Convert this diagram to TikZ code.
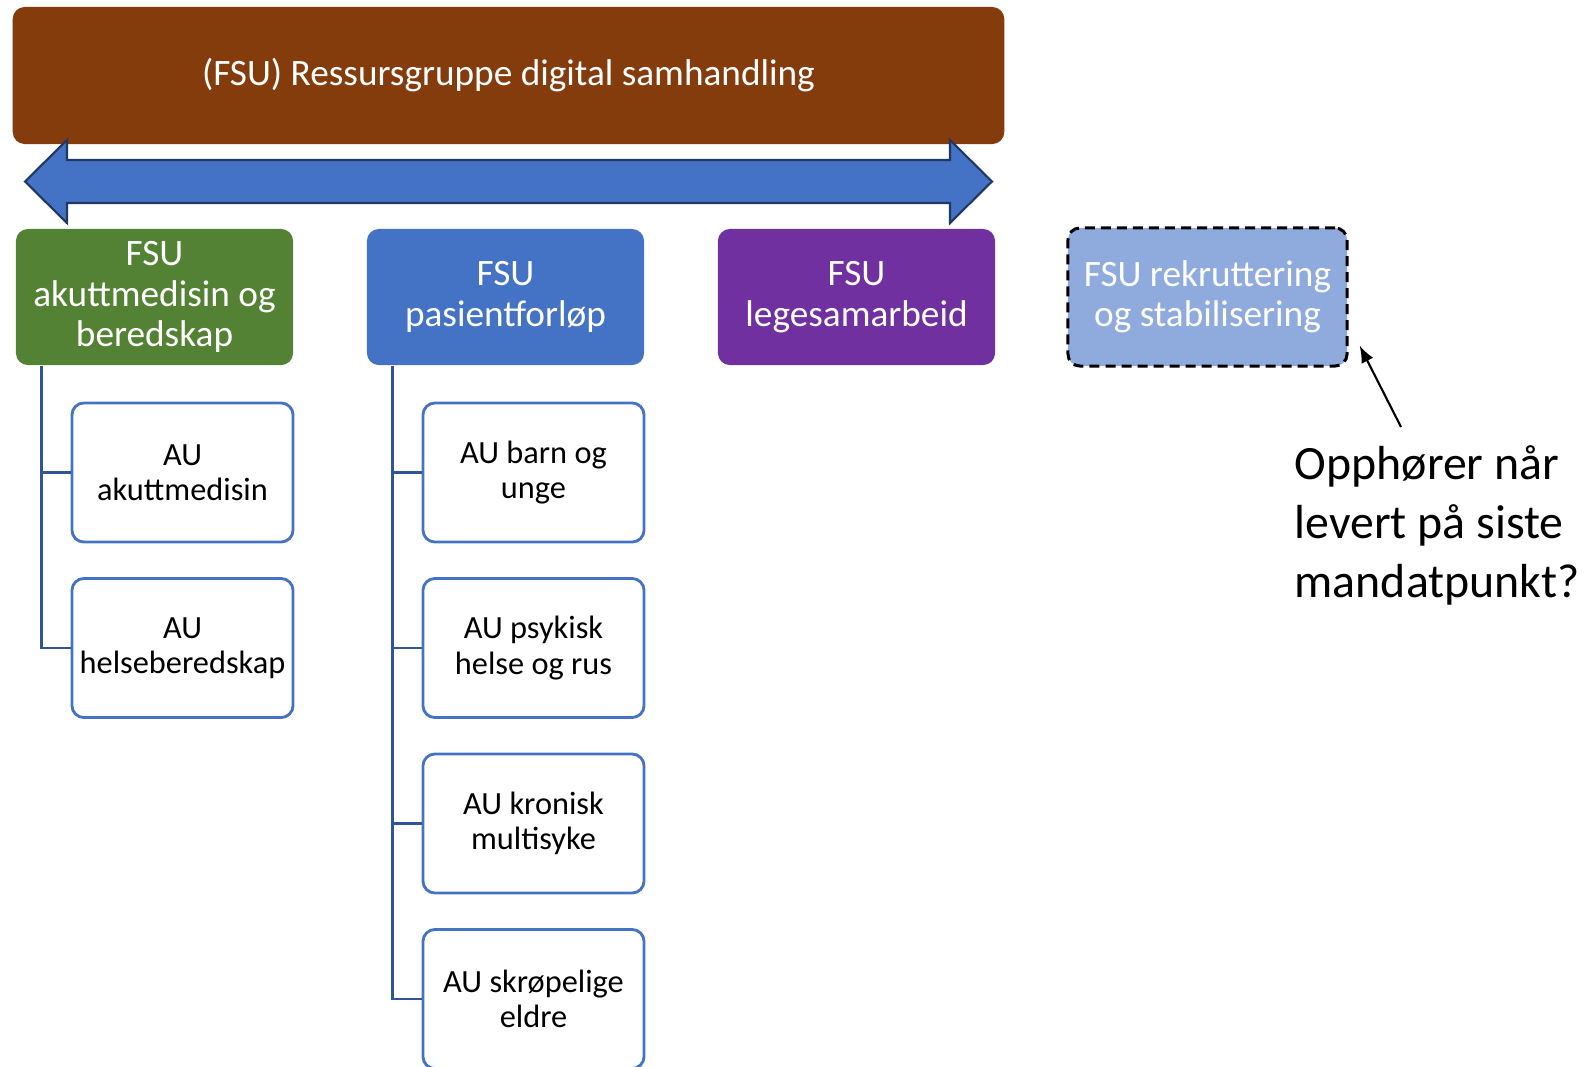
\documentclass[tikz,border=0pt]{standalone}
\usepackage{fontspec}
\setmainfont{Carlito}
\usepackage{tikz}
\usetikzlibrary{arrows.meta}
\tikzset{>={Latex[width=1.3mm,length=1.7mm]}}
\definecolor{brownfsu}{HTML}{843C0C}
\definecolor{greenfsu}{HTML}{548235}
\definecolor{bluefsu}{HTML}{4472C4}
\definecolor{purplefsu}{HTML}{7030A0}
\definecolor{lightfsu}{HTML}{8FAADC}
\definecolor{arrowline}{HTML}{1F3864}
\definecolor{linkline}{HTML}{2F5597}
\tikzset{
  fsubox/.style={rectangle, rounded corners=0.12cm, minimum width=2.77cm,
    minimum height=1.36cm, align=center, text=white, inner sep=0pt,
    font=\fontsize{10.6}{11.5}\selectfont},
  aubox/.style={rectangle, rounded corners=0.12cm, draw=bluefsu,
    line width=0.8pt, fill=white, minimum width=2.21cm, minimum height=1.39cm,
    align=center, inner sep=0pt, font=\fontsize{9.2}{10.1}\selectfont},
  link/.style={draw=linkline, line width=0.75pt},
}

\begin{document}
\begin{tikzpicture}[x=0.01cm, y=-0.01cm]
    \useasboundingbox (0,0) rectangle (1585,1066);

    \node[fsubox, fill=brownfsu, minimum width=9.91cm, minimum height=1.37cm] (ressurs) at (508.5,75.5) {(FSU) Ressursgruppe digital samhandling};

    % double arrow under the top box
    \draw[fill=bluefsu, draw=arrowline, line width=0.6pt]
      (25,181.5) -- (67,140) -- (67,160) -- (950,160) -- (950,140)
      -- (992,181.5) -- (950,223) -- (950,203) -- (67,203) -- (67,223) -- cycle;

    \node[fsubox, fill=greenfsu] (akutt) at (154.5,297) {FSU\\akuttmedisin og\\beredskap};
    \node[fsubox, fill=bluefsu] (forlop) at (505.5,297) {FSU\\pasientforløp};
    \node[fsubox, fill=purplefsu] (lege) at (856.5,297) {FSU\\legesamarbeid};
    \node[fsubox, fill=lightfsu, draw=black, line width=0.85pt, dash pattern=on 0.1cm off 0.06cm,
      minimum width=2.79cm, minimum height=1.38cm] (rekrutt) at (1207.5,297) {FSU rekruttering\\og stabilisering};

    \node[aubox] (au-akutt) at (182.5,472.5) {AU\\akuttmedisin};
    \node[aubox] (au-helse) at (182.5,648) {AU\\helseberedskap};

    \node[aubox] (au-barn) at (533.5,472.5) {AU barn og\\unge};
    \node[aubox] (au-psyk) at (533.5,648) {AU psykisk\\helse og rus};
    \node[aubox] (au-kron) at (533.5,823.5) {AU kronisk\\multisyke};
    \node[aubox] (au-skrop) at (533.5,999) {AU skrøpelige\\eldre};

    \draw[link] ([xshift=0.26cm]akutt.south west) |- (au-akutt.west);
    \draw[link] ([xshift=0.26cm]akutt.south west) |- (au-helse.west);

    \draw[link] ([xshift=0.26cm]forlop.south west) |- (au-barn.west);
    \draw[link] ([xshift=0.26cm]forlop.south west) |- (au-psyk.west);
    \draw[link] ([xshift=0.26cm]forlop.south west) |- (au-kron.west);
    \draw[link] ([xshift=0.26cm]forlop.south west) |- (au-skrop.west);

    \node[anchor=north west, align=left, inner sep=0pt,
      font=\fontsize{13.6}{16.7}\selectfont] (note) at (1294,445) {Opphører når\\levert på siste\\mandatpunkt?};
    \coordinate (note-from) at (1401,427);

    \draw[->, line width=0.6pt] (note-from) -- ([shift={(0.11cm,0.22cm)}]rekrutt.south east);

\end{tikzpicture}
\end{document}
